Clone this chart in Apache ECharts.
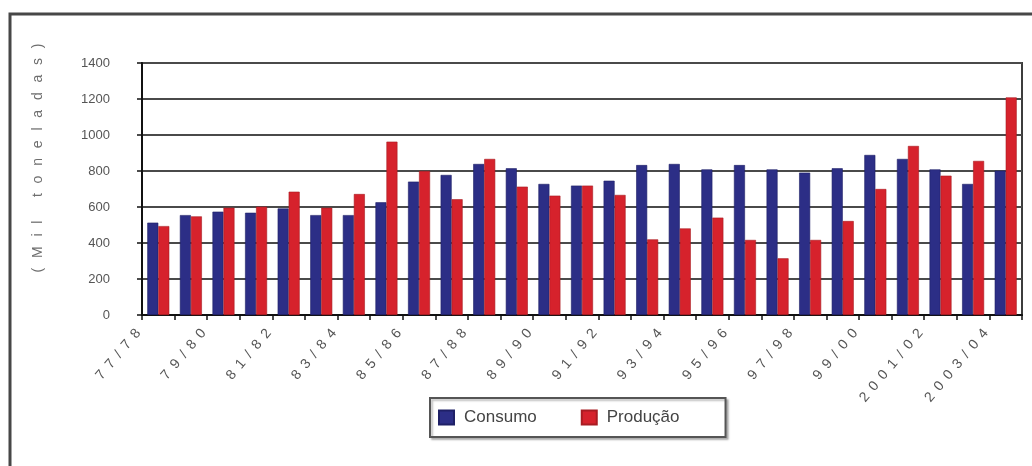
<!DOCTYPE html>
<html>
<head>
<meta charset="utf-8">
<script src="https://cdn.jsdelivr.net/npm/echarts@6/dist/echarts.min.js"></script>
<style>
  html, body { margin: 0; padding: 0; background: #fff; }
  #chart { width: 1032px; height: 466px; }
</style>
</head>
<body>
<div id="chart"></div>
<script>
// Safras (anos-safra) e valores em mil toneladas
const safras = [
  '77/78', '78/79', '79/80', '80/81', '81/82', '82/83', '83/84', '84/85', '85/86',
  '86/87', '87/88', '88/89', '89/90', '90/91', '91/92', '92/93', '93/94', '94/95',
  '95/96', '96/97', '97/98', '98/99', '99/00', '2000/01', '2001/02', '2002/03', '2003/04'
];
const consumo = [
  513, 555, 574, 568, 592, 555, 555, 626, 741,
  778, 839, 815, 728, 719, 746, 833, 839, 809,
  833, 809, 791, 815, 889, 867, 809, 728, 802
];
const producao = [
  494, 548, 596, 602, 685, 596, 672, 963, 800,
  643, 867, 713, 663, 719, 667, 420, 481, 541,
  417, 315, 417, 522, 700, 939, 774, 856, 1209
];
const yTicks = [0, 200, 400, 600, 800, 1000, 1200, 1400];
const yTitle = '(Mil toneladas)';

// spread the glyphs of a label apart
const spaced = (s, gap) => s.split('').join(gap);

const FONT = '"Liberation Sans", Arial, sans-serif';
const chart = echarts.init(document.getElementById('chart'), null, { renderer: 'canvas' });

chart.setOption({
  backgroundColor: '#ffffff',
  animation: false,
  textStyle: { fontFamily: FONT },
  graphic: [{
    type: 'rect',
    z: -10,
    shape: { x: 10, y: 14, width: 1040, height: 470 },
    style: { fill: 'none', stroke: '#474747', lineWidth: 3 }
  }],
  grid: {
    left: 142, right: 10, top: 63, bottom: 151,
    show: true, borderColor: '#3c3c3c', borderWidth: 2, backgroundColor: '#fff'
  },
  legend: {
    left: 430, top: 398,
    orient: 'horizontal',
    icon: 'rect',
    itemWidth: 15, itemHeight: 14, itemGap: 44,
    padding: [11, 46, 11, 8],
    borderColor: '#555', borderWidth: 2,
    shadowColor: 'rgba(0,0,0,0.25)', shadowOffsetX: 2, shadowOffsetY: 2, shadowBlur: 2,
    backgroundColor: '#fff',
    textStyle: { fontSize: 17, color: '#444', fontFamily: FONT, padding: [0, 0, 0, 5] },
    data: ['Consumo', 'Produção']
  },
  xAxis: {
    type: 'category',
    data: safras,
    boundaryGap: true,
    axisLine: { lineStyle: { color: '#111', width: 2 } },
    axisTick: { show: true, interval: 0, length: 5, lineStyle: { color: '#111', width: 1.5 } },
    axisLabel: {
      interval: 1,
      rotate: 50,
      margin: -8,
      padding: [0, 31, 0, 0],
      fontSize: 14,
      color: '#555',
      fontFamily: FONT,
      formatter: v => spaced(v, ' \u2009')
    }
  },
  yAxis: {
    type: 'value',
    min: yTicks[0], max: yTicks[yTicks.length - 1], interval: 200,
    name: spaced(yTitle, '\u2002\u2009'),
    nameLocation: 'middle',
    nameRotate: 90,
    nameGap: 97,
    nameTextStyle: { fontSize: 14, color: '#6e6e6e', fontFamily: FONT, padding: [0, 0, 0, 62] },
    axisLine: { show: true, lineStyle: { color: '#111', width: 2 } },
    axisTick: { show: true, length: 5, lineStyle: { color: '#111', width: 1.5 } },
    axisLabel: {
      margin: 32, fontSize: 13, color: '#555', fontFamily: FONT,
      formatter: v => String(v)
    },
    splitLine: { show: true, lineStyle: { color: '#4a4a4a', width: 2 } }
  },
  series: [
    {
      name: 'Consumo', type: 'bar', data: consumo,
      barWidth: 11, barGap: '0%',
      itemStyle: { color: '#2c2e86', borderColor: '#1f2066', borderWidth: 0.6 }
    },
    {
      name: 'Produção', type: 'bar', data: producao,
      barWidth: 11, barGap: '0%',
      itemStyle: { color: '#d6222c', borderColor: '#a81c22', borderWidth: 0.6 }
    }
  ]
});
</script>
</body>
</html>
